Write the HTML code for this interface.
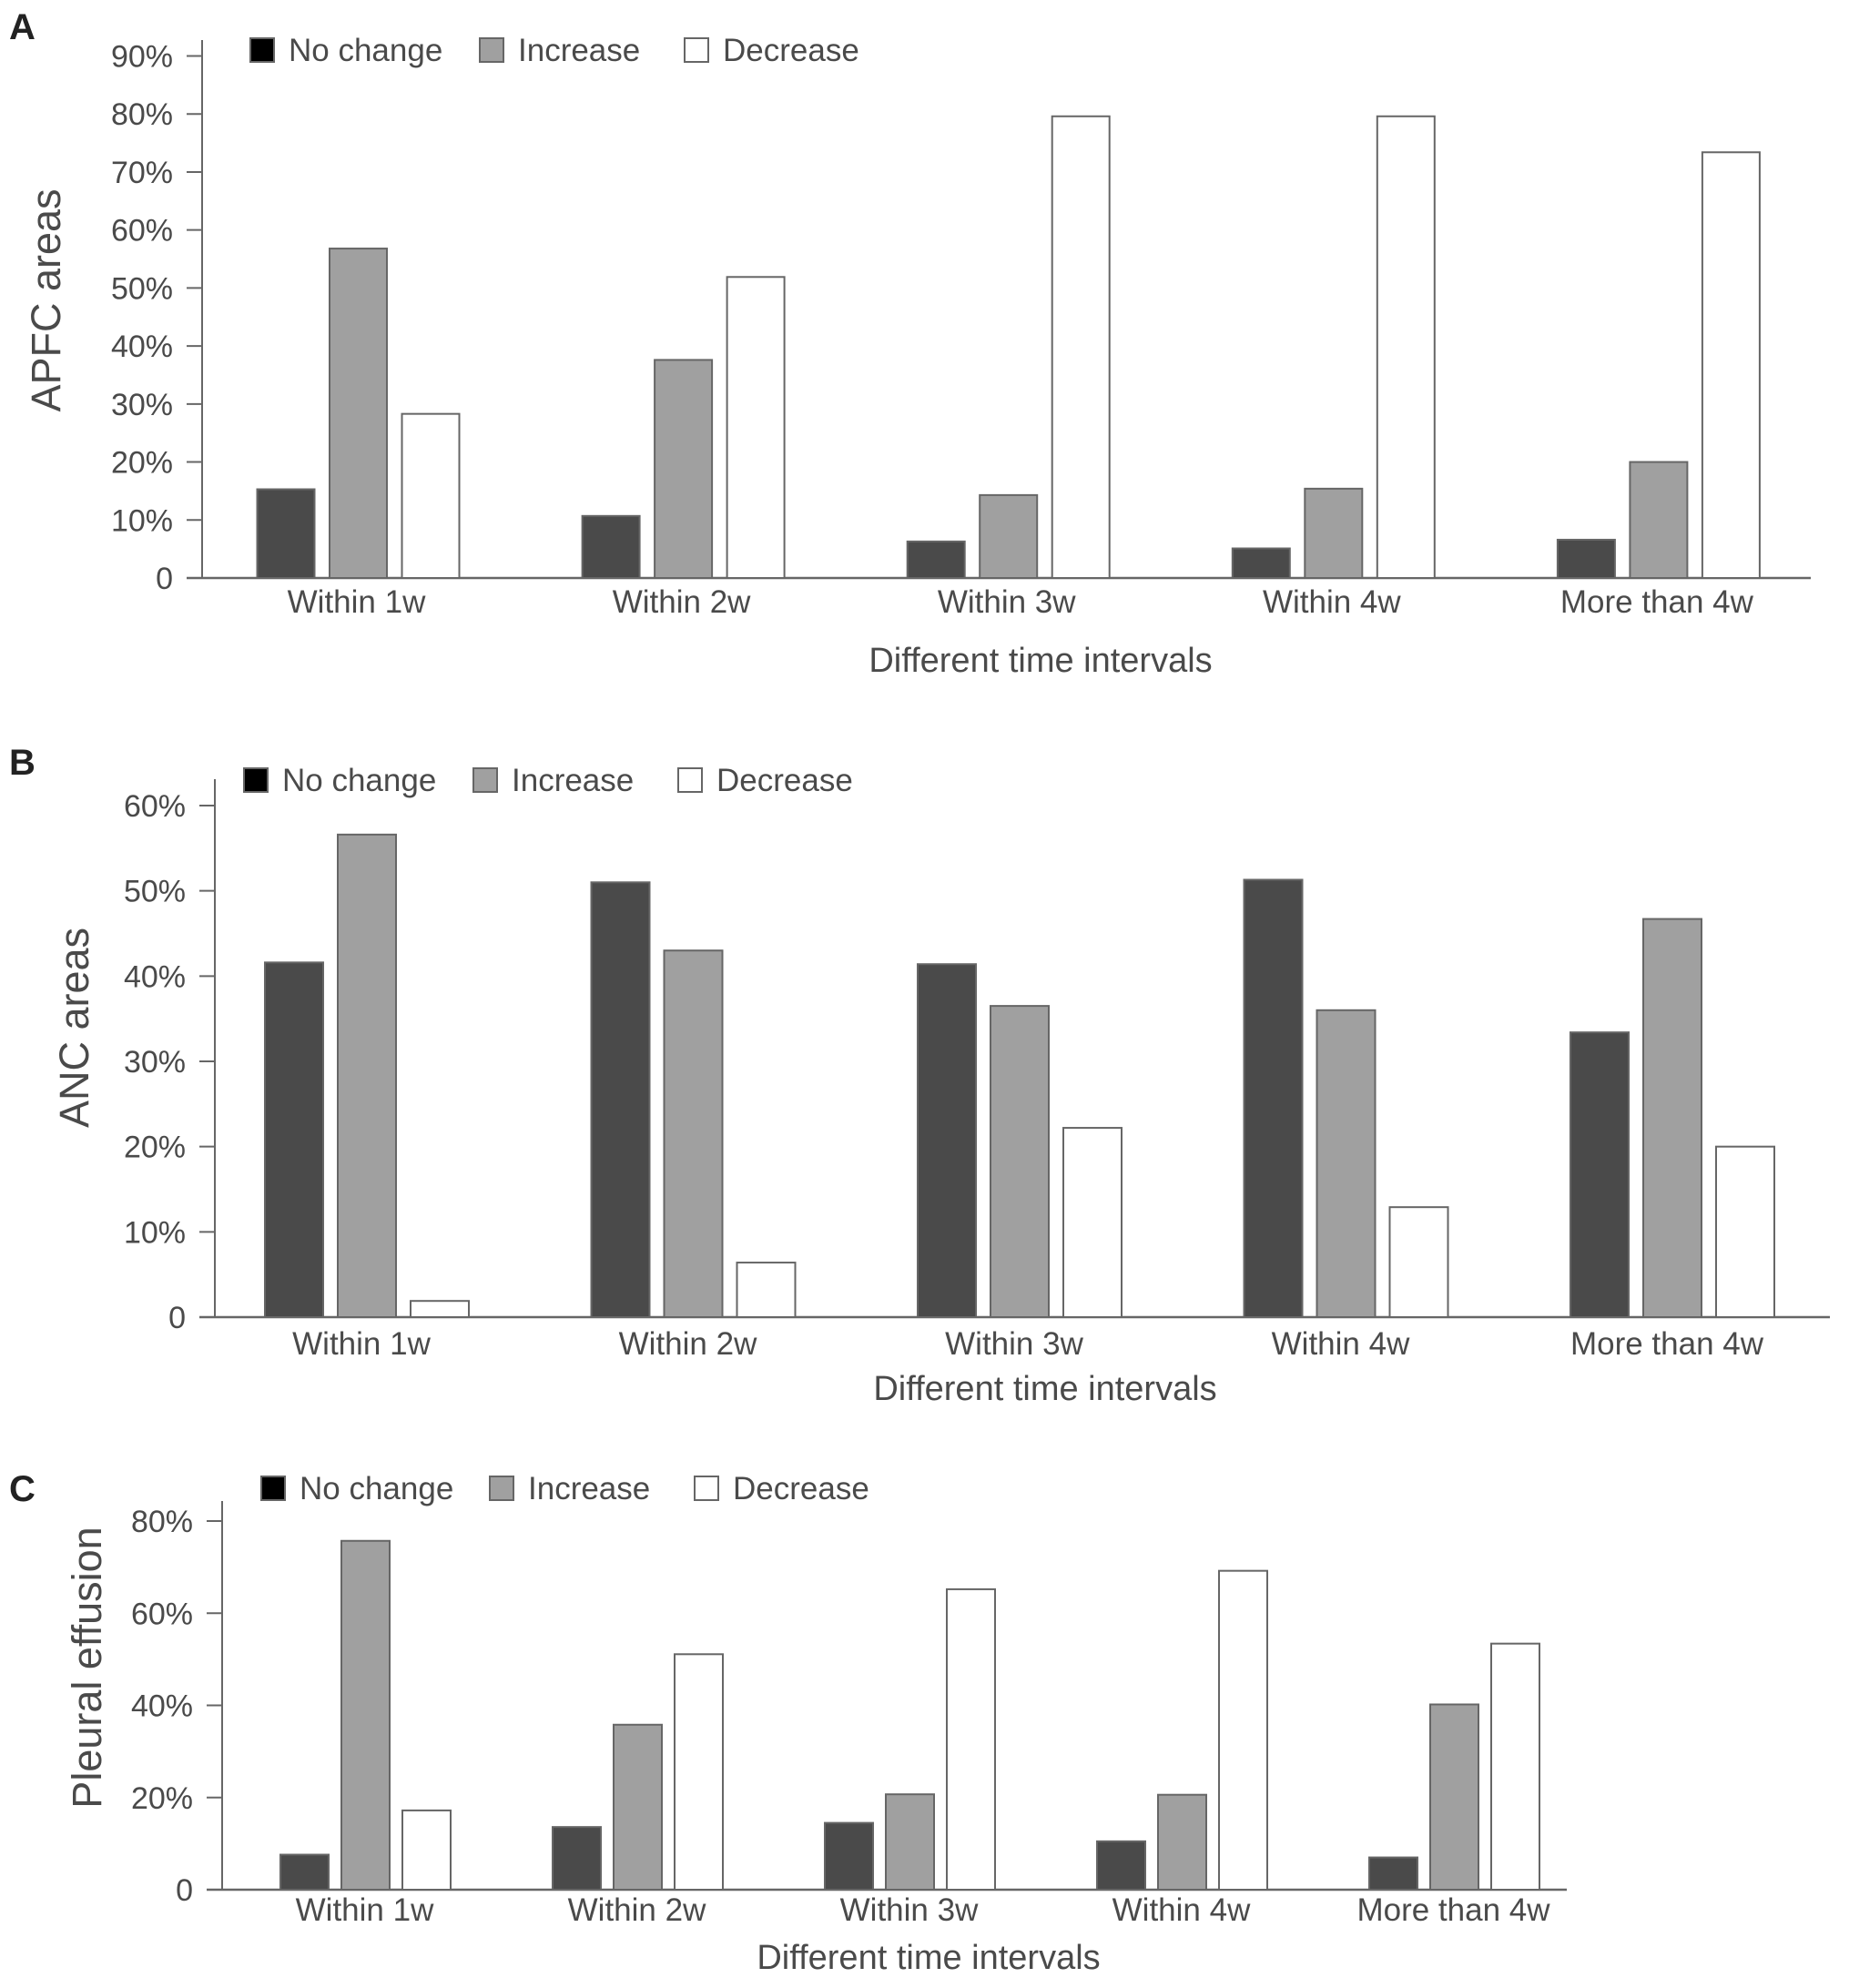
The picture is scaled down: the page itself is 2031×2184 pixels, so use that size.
<!DOCTYPE html>
<html><head><meta charset="utf-8"><style>
html,body{margin:0;padding:0;background:#fff}
svg{display:block}
text{font-family:"Liberation Sans",Arial,sans-serif;fill:#4a4a4a}
</style></head><body>
<svg id="fig" width="2031" height="2184" viewBox="0 0 2031 2184" xmlns="http://www.w3.org/2000/svg"></svg>
<script>
const categories = ["Within 1w","Within 2w","Within 3w","Within 4w","More than 4w"];
const seriesNames = ["No change","Increase","Decrease"];
const aNoChange = [15.3, 10.7, 6.3, 5.1, 6.6];
const aIncrease = [56.8, 37.6, 14.3, 15.4, 20.0];
const aDecrease = [28.3, 51.9, 79.6, 79.6, 73.4];
const bNoChange = [41.6, 51.0, 41.4, 51.3, 33.4];
const bIncrease = [56.6, 43.0, 36.5, 36.0, 46.7];
const bDecrease = [1.9, 6.4, 22.2, 12.9, 20.0];
const cNoChange = [7.6, 13.6, 14.5, 10.5, 7.0];
const cIncrease = [75.7, 35.8, 20.7, 20.6, 40.2];
const cDecrease = [17.2, 51.1, 65.2, 69.2, 53.4];
const aTicks = [0,10,20,30,40,50,60,70,80,90];
const bTicks = [0,10,20,30,40,50,60];
const cTicks = [0,20,40,60,80];

const NS = "http://www.w3.org/2000/svg";
const svg = document.getElementById("fig");
const fills = ["#4a4a4a","#a0a0a0","#ffffff"];
const legendFills = ["#000000","#a0a0a0","#ffffff"];
function el(tag, attrs, parent){
  const e = document.createElementNS(NS, tag);
  for (const k in attrs) e.setAttribute(k, attrs[k]);
  (parent||svg).appendChild(e);
  return e;
}
function txt(s, attrs, parent){ const t = el("text", attrs, parent); t.textContent = s; return t; }

function panel(cfg){
  const g = el("g", {});
  
  
  const y = v => cfg.y0 - (v / cfg.max) * (cfg.y0 - cfg.yTop);
  const L = txt(cfg.letter, {x:10, y:cfg.letterY, "font-size":40, "font-weight":"bold", style:"fill:#222"}, g);
  
  
  const ax = el("line", {x1:cfg.axX, y1:cfg.axTop, x2:cfg.axX, y2:cfg.y0, stroke:"#666", "stroke-width":2}, g);
  
  
  const bx = el("line", {x1:cfg.axX-17, y1:cfg.y0, x2:cfg.axEnd, y2:cfg.y0, stroke:"#666", "stroke-width":2.5}, g);
  
  
  cfg.ticks.forEach(t => {
    if (t > 0) el("line", {x1:cfg.axX-17, y1:y(t), x2:cfg.axX, y2:y(t), stroke:"#666", "stroke-width":2}, g);
    const tl = txt(t === 0 ? "0" : t + "%", {x:cfg.axX-32, y:y(t)+12, "font-size":34, "text-anchor":"end"}, g);
    
    
  });
  const series = cfg.series;
  categories.forEach((c, i) => {
    const gx = cfg.x0 + i * cfg.step;
    series.forEach((arr, s) => {
      const x = gx + s * cfg.bstep;
      const r = el("rect", {x:x, y:y(arr[i]), width:cfg.bw, height:cfg.y0 - y(arr[i]), fill:fills[s], stroke:"#666", "stroke-width":2}, g);
      
      
    });
    const cl = txt(c, {x:gx + (2*cfg.bstep + cfg.bw)/2 + cfg.labShift, y:cfg.xlabY, "font-size":35, "text-anchor":"middle"}, g);
    
    
  });
  seriesNames.forEach((n, s) => {
    const lx = cfg.legX[s];
    const sq = el("rect", {x:lx, y:cfg.legY-25, width:26, height:26, fill:legendFills[s], stroke:"#666", "stroke-width":2}, g);
    
    
    const lt = txt(n, {x:lx+42, y:cfg.legY, "font-size":35}, g);
    
    
  });
  const yt = txt(cfg.yTitle, {x:0, y:0, "font-size":45, "text-anchor":"middle", transform:"translate(" + cfg.yTitleX + "," + cfg.yTitleY + ") rotate(-90)"}, g);
  
  
  const xt = txt("Different time intervals", {x:cfg.xTitleX, y:cfg.xTitleY, "font-size":38, "text-anchor":"middle"}, g);
  
  
}

panel({key:"apfc", letter:"A", letterY:43, axX:222, axTop:44, axEnd:1989, y0:635, yTop:61.5, max:90, ticks:aTicks,
  series:[aNoChange,aIncrease,aDecrease], x0:282.5, step:357.1, bw:63, bstep:79.5, xlabY:673, labShift:-2,
  legX:[275,527,752], legY:67, yTitle:"APFC areas", yTitleX:66, yTitleY:330, xTitleX:1143, xTitleY:738});
panel({key:"anc", letter:"B", letterY:851, axX:236, axTop:856, axEnd:2010, y0:1447, yTop:885, max:60, ticks:bTicks,
  series:[bNoChange,bIncrease,bDecrease], x0:291, step:358.5, bw:64, bstep:80, xlabY:1488, labShift:-6,
  legX:[268,520,745], legY:869, yTitle:"ANC areas", yTitleX:97, yTitleY:1129, xTitleX:1148, xTitleY:1538});
panel({key:"pleural", letter:"C", letterY:1649, axX:244, axTop:1649, axEnd:1721, y0:2076, yTop:1671, max:80, ticks:cTicks,
  series:[cNoChange,cIncrease,cDecrease], x0:308, step:299, bw:53, bstep:67, xlabY:2110, labShift:-1,
  legX:[287,538,763], legY:1647, yTitle:"Pleural effusion", yTitleX:111, yTitleY:1832, xTitleX:1020, xTitleY:2163});
</script>
</body></html>
